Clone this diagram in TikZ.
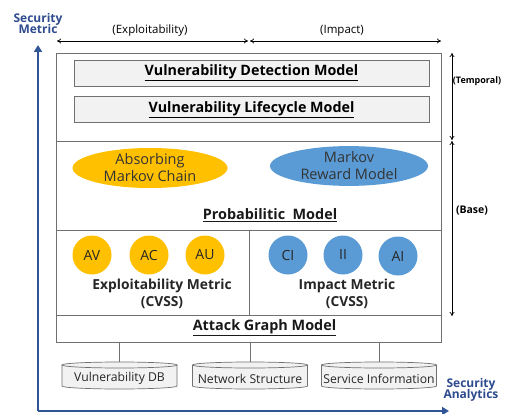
\documentclass[tikz,border=0pt]{standalone}
\usepackage{fontspec}
\setmainfont{Open Sans}
\usetikzlibrary{arrows.meta,shapes.geometric}
\definecolor{myyellow}{HTML}{FFC000}
\definecolor{myblue}{HTML}{5B9BD5}
\definecolor{axisblue}{HTML}{2F5597}
\definecolor{labblue}{HTML}{2E4B8E}
\definecolor{boxgrey}{HTML}{F2F2F2}
\definecolor{linegrey}{HTML}{707070}
\tikzset{
  secbox/.style={draw=linegrey, line width=0.8pt, inner sep=0pt, anchor=north west},
  greybox/.style={draw=linegrey, fill=boxgrey, line width=0.7pt, minimum width=355pt, minimum height=26pt, inner sep=0pt, font=\fontsize{14.3}{16}\selectfont\bfseries},
  yell/.style={ellipse, fill=myyellow, inner sep=0pt, font=\fontsize{14.5}{17}\selectfont, text=black!80, align=center},
  blu/.style={ellipse, fill=myblue, inner sep=0pt, font=\fontsize{14.5}{17}\selectfont, text=black!80, align=center},
  ycirc/.style={circle, fill=myyellow, minimum size=39pt, inner sep=0pt, font=\fontsize{14}{16}\selectfont, text=black!85},
  bcirc/.style={circle, fill=myblue, minimum size=39pt, inner sep=0pt, font=\fontsize{14}{16}\selectfont, text=black!85},
  metlab/.style={font=\fontsize{13.8}{17}\selectfont\bfseries, align=center, text=black!85},
  dbbox/.style={minimum width=115pt, minimum height=22pt, inner sep=0pt, font=\fontsize{12.2}{14}\selectfont, text=black!85},
  dblines/.style={draw=linegrey, fill=boxgrey, line width=0.7pt},
  dimarrow/.style={{To[length=4pt,width=5pt]}-{To[length=4pt,width=5pt]}, line width=0.7pt},
  dimlab/.style={font=\fontsize{11.5}{12}\selectfont, text=black},
  axis/.style={-{Triangle[length=7pt,width=8pt]}, line width=2.2pt, draw=axisblue},
  axlab/.style={font=\fontsize{12}{12}\selectfont\bfseries, text=labblue, align=center, inner sep=0pt},
  seclab/.style={font=\fontsize{14.4}{16}\selectfont\bfseries, text=black!90},
}
\begin{document}
\begin{tikzpicture}[x=1pt,y=-1pt]
\useasboundingbox (0,0) rectangle (508,414);
\fill[white] (0,0) rectangle (508,414);

% axes
\coordinate (origin) at (38,411);
\coordinate (ytip) at (38,45);
\coordinate (xtip) at (449,411);
\draw[axis] (origin) -- (ytip);
\draw[axis] (origin) -- (xtip);
\node[axlab] (smet) at (38,24) {Security\\[-1pt]Metric};
\node[axlab] (sana) at (471,390) {Security\\[-1pt]Analytics};

% sections
\node[secbox, minimum width=385pt, minimum height=88pt] (tbox) at (56,53) {};
\node[secbox, minimum width=385pt, minimum height=89pt] (pbox) at (56,141) {};
\node[secbox, minimum width=193pt, minimum height=85pt] (ebox) at (56,230) {};
\node[secbox, minimum width=192pt, minimum height=85pt] (ibox) at (249,230) {};
\node[secbox, minimum width=385pt, minimum height=27pt] (abox) at (56,315) {};

% temporal
\node[greybox] (vdm) at (251.5,73) {\underline{Vulnerability Detection Model}};
\node[greybox] (vlm) at (251.5,109.5) {\underline{Vulnerability Lifecycle Model}};

% probabilistic
\node[yell, minimum width=155pt, minimum height=40pt] (amc) at (150,168) {Absorbing\\Markov Chain};
\node[blu, minimum width=158pt, minimum height=38pt] (mrm) at (349,166) {Markov\\Reward Model};
\node[seclab] (pm) at (270,215) {\underline{Probabilitic\ \ Model}};

% CVSS
\node[ycirc] (av) at (92,255) {AV};
\node[ycirc] (ac) at (149,255) {AC};
\node[ycirc] (au) at (205,255) {AU};
\node[bcirc] (ci) at (288,255) {CI};
\node[bcirc] (ii) at (343,255) {II};
\node[bcirc] (ai) at (398,256) {AI};
\node[metlab] (em) at (162,294) {Exploitability Metric\\(CVSS)};
\node[metlab] (im) at (347,294) {Impact Metric\\(CVSS)};

% attack graph
\node[seclab] (ag) at (264.5,327.5) {\underline{Attack Graph Model}};

% databases
\foreach \nm/\cx/\txt in {db1/119.5/Vulnerability DB, db2/250/Network Structure, db3/379/Service Information}{
  \draw[dblines] (\cx-57.5,365) -- (\cx-57.5,386) arc[start angle=180, end angle=0, x radius=57.5, y radius=3] -- (\cx+57.5,365);
  \draw[dblines] (\cx,365) ellipse [x radius=57.5, y radius=3];
  \node[dbbox] (\nm) at (\cx,378.5) {\txt};
}
\foreach \nm in {db1,db2,db3}{
  \draw[draw=linegrey, line width=0.7pt] (abox.south -| \nm.north) -- ([yshift=5.5pt]\nm.north);
}

% dimension arrows top
\coordinate (e1) at (57,41);
\coordinate (e2) at (248,41);
\coordinate (i1) at (250,41);
\coordinate (i2) at (441,41);
\draw[dimarrow] (e1) -- (e2);
\draw[dimarrow] (i1) -- (i2);
\node[dimlab] (lexp) at (150,31) {(Exploitability)};
\node[dimlab] (limp) at (342,31) {(Impact)};

% right arrows
\coordinate (t1) at (452,53);
\coordinate (t2) at (452,140);
\coordinate (b1) at (452,141);
\coordinate (b2) at (452,316);
\draw[dimarrow] (t1) -- (t2);
\draw[dimarrow] (b1) -- (b2);
\node[dimlab, font=\fontsize{9}{10}\selectfont\bfseries] (ltemp) at (477,81) {(Temporal)};
\node[dimlab, font=\fontsize{10.5}{10}\selectfont\bfseries] (lbase) at (472,211) {(Base)};
\end{tikzpicture}
\end{document}
